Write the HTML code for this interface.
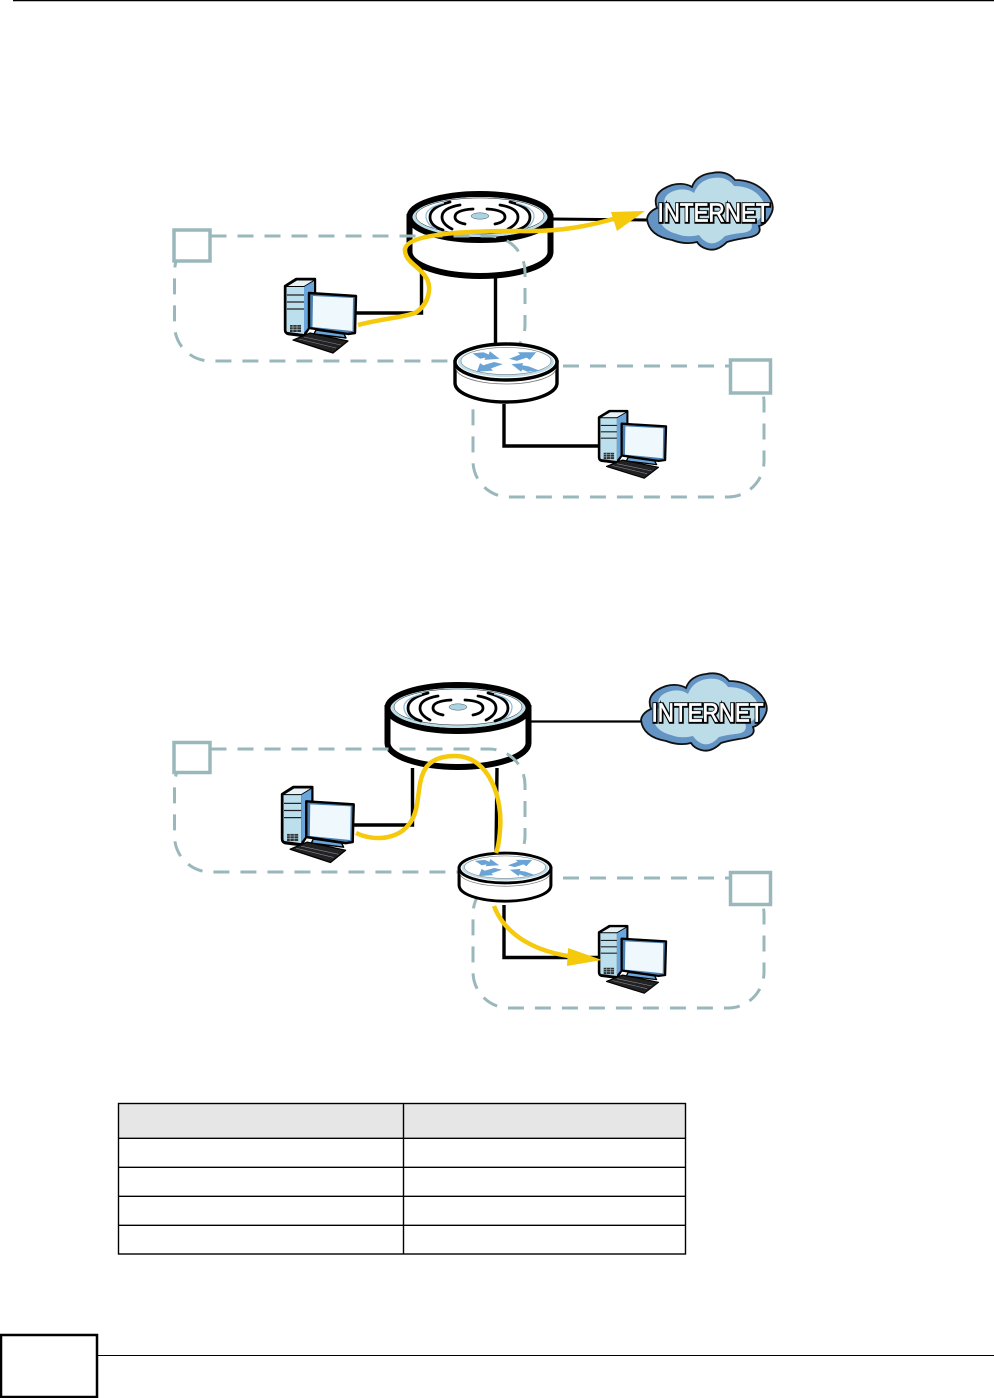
<!DOCTYPE html>
<html><head><meta charset="utf-8"><style>
html,body{margin:0;padding:0;background:#fff}
svg{display:block}
</style></head><body>
<svg xmlns="http://www.w3.org/2000/svg" width="994" height="1398" viewBox="0 0 994 1398">
<defs>
<g id="ap">
  <path d="M-70.500,0 V35 A70.500,24 0 0 0 70.500,35 V0 Z" fill="#fff" stroke="#000" stroke-width="6"/>
  <ellipse cx="0" cy="0" rx="70.500" ry="23" fill="#fff" stroke="#000" stroke-width="6"/>
  <ellipse cx="0" cy="0" rx="67" ry="20" fill="#bcdce8"/>
  <ellipse cx="0" cy="-1" rx="64" ry="18" fill="#fff" stroke="#222" stroke-width=".5"/>
  <g fill="none" stroke="#000" stroke-width="2.800" stroke-linecap="round">
    <path d="M-7,-8 Q-25,-7 -25,0 Q-25,5 -15,7"/>
    <path d="M-20,-12 Q-38,-9 -38,0 Q-38,7 -28,12"/>
    <path d="M-30,-15 Q-50,-10 -50,0 Q-50,9 -37,13"/>
    <path d="M7,-8 Q25,-7 25,0 Q25,5 15,7"/>
    <path d="M20,-12 Q38,-9 38,0 Q38,7 28,12"/>
    <path d="M30,-15 Q50,-10 50,0 Q50,9 37,13"/>
  </g>
  <path d="M-36,-14 Q-55,-9 -54,0 Q-53,8 -44,12" fill="none" stroke="#8fbcd8" stroke-width="1.200"/>
  <path d="M36,-14 Q55,-9 54,0 Q53,8 44,12" fill="none" stroke="#8fbcd8" stroke-width="1.200"/>
  <ellipse cx="0" cy="-1" rx="9" ry="3.200" fill="#a9d4e4" stroke="#555" stroke-width=".5"/>
</g>
<g id="router">
  <path d="M-51,0 V21 A51,19 0 0 0 51,21 V0 Z" fill="#fff" stroke="#000" stroke-width="3.400"/>
  <path d="M-50,6 A50,16 0 0 0 50,6" fill="none" stroke="#777" stroke-width=".8"/>
  <ellipse cx="0" cy="0" rx="51" ry="18" fill="#fff" stroke="#000" stroke-width="3.400"/>
  <ellipse cx="0" cy="0" rx="48" ry="15" fill="#bcdce8"/>
  <ellipse cx="0" cy="-1" rx="45" ry="13.500" fill="#fff" stroke="#444" stroke-width=".4"/>
  <g fill="#6aa3d6" transform="scale(1.08)">
    <path d="M-31,-8 L-21,-9 L-16,-7 L-15,-10 L-6,-3 L-20,-2 L-19,-4 L-24,-3 Z"/>
    <path d="M3,-3 L13,-7 L11,-9 L28,-9 L22,-2 L19,-4 L10,-1 Z"/>
    <path d="M-3,2 L-14,6 L-12,8 L-27,9 L-24,1 L-21,3 L-11,0 Z"/>
    <path d="M5,2 L16,1 L15,3 L21,4 L31,8 L20,9 L15,7 L14,9 Z"/>
  </g>
</g>
<g id="pc" stroke-linejoin="round">
  <path d="M1,8 L12,1 L31,1 L31,40 L20,58 L4,56 Q1,55 1,52 Z" fill="#000" stroke="#000" stroke-width="2.400"/>
  <path d="M2.500,9 L20,9 L20,56 L4,54 Q2.500,54 2.500,52 Z" fill="#bcdfee"/>
  <path d="M20,9 L30,3 L30,42 L20,55 Z" fill="#6aa6db"/>
  <path d="M4,8 L13,2.500 L29,2.500 L20,8 Z" fill="#e8f3f8"/>
  <path d="M3,17 H20 M3,24 H20 M3,31 H20" stroke="#222" stroke-width="1.200" fill="none"/>
  <rect x="6" y="47" width="11" height="7" fill="#333"/>
  <path d="M6,49 H17 M6,51.500 H17 M9,47 V54 M13,47 V54" stroke="#bcdfee" stroke-width=".5"/>
  <path d="M25,15 L72,18 L71,55 L64,56 L25,50 Z" fill="#4a7fb0" stroke="#000" stroke-width="2.400"/>
  <path d="M29,18 L69,20 L68.500,53 L28.500,49 Z" fill="#eff8fd"/>
  <path d="M32,52 L60,56 L62,60 L30,56 Z" fill="#6aa6db" stroke="#000" stroke-width="1.400"/>
  <path d="M9,62 L26,55 L64,63 L49,75 Z" fill="#222" stroke="#000" stroke-width="1.200"/>
  <path d="M15,61 L52,70 M20,59 L57,67" stroke="#889" stroke-width=".6" fill="none"/>
</g>
<g id="cloud">
  <path d="M0,47 Q1,40 10,36 Q4,20 25,13 Q37,10 45,15 Q49,3 65,1 Q80,-2 88,8 Q108,8 120,22 Q128,32 125,40 Q120,52 112,54 Q116,64 98,66 Q86,68 80,70 Q70,80 60,77 Q53,75 50,70 Q38,73 25,68 Q2,64 0,47 Z" fill="#6394c4" stroke="#111" stroke-width="1.800"/>
  <path d="M12,45 Q12,38 18,35 Q14,22 30,18 Q40,16 47,21 Q52,8 66,6 Q80,4 87,14 Q105,14 114,26 Q120,34 116,42 Q112,50 104,50 Q108,60 94,61 Q85,62 78,64 Q70,73 62,71 Q56,69 52,63 Q40,66 30,62 Q14,58 12,45 Z" fill="#bcdce8"/>
</g>
</defs>

<!-- page rules -->
<line x1="13" y1="0.5" x2="994" y2="0.5" stroke="#000" stroke-width="1.500"/>

<!-- DIAGRAM 1 -->
<line x1="552" y1="219" x2="650" y2="220" stroke="#000" stroke-width="3"/>
<use href="#ap" x="480" y="217"/>
<use href="#cloud" x="647" y="172"/>
<text x="658" y="222" font-family="'Liberation Sans',sans-serif" font-size="26" textLength="112" lengthAdjust="spacingAndGlyphs" fill="#000" stroke="#000" stroke-width="3.600">INTERNET</text>
<text x="657.500" y="221.500" font-family="'Liberation Sans',sans-serif" font-size="26" textLength="112" lengthAdjust="spacingAndGlyphs" fill="#fff" stroke="#fff" stroke-width=".7">INTERNET</text>
<rect x="174.500" y="236" width="350.500" height="125" rx="36" fill="none" stroke="#9ab8bc" stroke-width="3" stroke-dasharray="16 11"/>
<rect x="473" y="366" width="291" height="131" rx="36" fill="none" stroke="#9ab8bc" stroke-width="3" stroke-dasharray="16 11"/>
<rect x="174" y="230" width="36" height="31" fill="#fff" stroke="#9ab8bc" stroke-width="3.500"/>
<rect x="730.500" y="360" width="40" height="33" fill="#fff" stroke="#9ab8bc" stroke-width="3.500"/>
<path d="M354,313 H421.500 V268" fill="none" stroke="#000" stroke-width="3.400"/>
<line x1="495.500" y1="276" x2="495.500" y2="345" stroke="#000" stroke-width="3.400"/>
<path d="M504,404 V446 H600" fill="none" stroke="#000" stroke-width="3.400"/>
<use href="#router" x="506" y="362"/>
<use href="#pc" x="284" y="278"/>
<use href="#pc" transform="translate(598,410) scale(.945,.91)"/>
<path d="M358,325 C380,319 400,318 415,313 C428,305 432,290 427,279 C420,266 404,262 405,249 C408,233 470,231 520,231 C560,232 590,226 620,217" fill="none" stroke="#f5c90c" stroke-width="4.500"/>
<path d="M645,211 L611,212 L617,231 Z" fill="#f5c90c"/>

<!-- DIAGRAM 2 -->
<line x1="531" y1="721.500" x2="642" y2="721.500" stroke="#000" stroke-width="2.200"/>
<use href="#ap" x="458" y="708"/>
<use href="#cloud" x="641" y="673"/>
<text x="652" y="722" font-family="'Liberation Sans',sans-serif" font-size="26" textLength="112" lengthAdjust="spacingAndGlyphs" fill="#000" stroke="#000" stroke-width="3.600">INTERNET</text>
<text x="651.500" y="721.500" font-family="'Liberation Sans',sans-serif" font-size="26" textLength="112" lengthAdjust="spacingAndGlyphs" fill="#fff" stroke="#fff" stroke-width=".7">INTERNET</text>
<rect x="174.500" y="749" width="350.500" height="123" rx="36" fill="none" stroke="#9ab8bc" stroke-width="3" stroke-dasharray="16 11"/>
<rect x="473" y="878" width="291" height="130" rx="36" fill="none" stroke="#9ab8bc" stroke-width="3" stroke-dasharray="16 11"/>
<rect x="174" y="742.500" width="36" height="30" fill="#fff" stroke="#9ab8bc" stroke-width="3.500"/>
<rect x="730.500" y="872.500" width="40" height="32" fill="#fff" stroke="#9ab8bc" stroke-width="3.500"/>
<path d="M354,825 H412.500 V768" fill="none" stroke="#000" stroke-width="3.400"/>
<line x1="497" y1="768" x2="496" y2="855" stroke="#000" stroke-width="3.400"/>
<path d="M504,905 V957.500 H600" fill="none" stroke="#000" stroke-width="3.400"/>
<use href="#router" transform="translate(505,868) scale(.9,.83)"/>
<use href="#pc" transform="translate(281,786) scale(1.01,1.02)"/>
<use href="#pc" transform="translate(598,925) scale(.945,.91)"/>
<path d="M356,833 C375,842 402,840 413,818 C424,795 410,756 455,756 C490,756 503,800 500,830 Q499,845 496,853" fill="none" stroke="#f5c90c" stroke-width="4.500"/>
<path d="M494,906 C505,935 535,952 575,957" fill="none" stroke="#f5c90c" stroke-width="4.500"/>
<path d="M602,960 L568,948 L567,966 Z" fill="#f5c90c"/>

<!-- TABLE -->
<rect x="118.500" y="1103.500" width="567" height="34.500" fill="#e6e6e6"/>
<g fill="none" stroke="#000" stroke-width="1.400">
  <rect x="118.500" y="1103.500" width="567" height="150.500"/>
  <line x1="403.500" y1="1103.500" x2="403.500" y2="1254"/>
  <line x1="118.500" y1="1138.300" x2="685.500" y2="1138.300"/>
  <line x1="118.500" y1="1167.300" x2="685.500" y2="1167.300"/>
  <line x1="118.500" y1="1196.300" x2="685.500" y2="1196.300"/>
  <line x1="118.500" y1="1225.300" x2="685.500" y2="1225.300"/>
</g>

<!-- FOOTER -->
<rect x="1" y="1335" width="96" height="62" fill="#fff" stroke="#000" stroke-width="2.500"/>
<line x1="97" y1="1355.500" x2="994" y2="1355.500" stroke="#000" stroke-width="1"/>
</svg>
</body></html>
